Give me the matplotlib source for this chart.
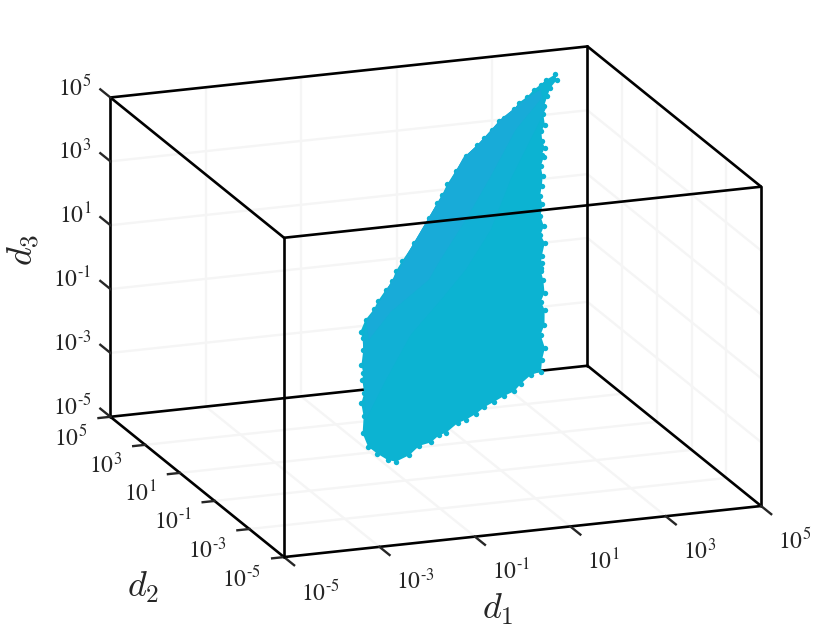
import matplotlib
matplotlib.use("Agg")
import matplotlib.pyplot as plt
from mpl_toolkits.mplot3d import proj3d
from mpl_toolkits.mplot3d.art3d import Poly3DCollection

# all values are log10 of d1, d2, d3
exponents = [-5, -3, -1, 1, 3, 5]
tick_labels = [r"$10^{\text{-}5}$", r"$10^{\text{-}3}$", r"$10^{\text{-}1}$",
               r"$10^{1}$", r"$10^{3}$", r"$10^{5}$"]

# edge of the point cloud
cloud_d1 = [3.90, 3.73, 3.62, 3.49, 3.43, 3.40, 3.29, 3.25, 3.26,
            3.16, 3.19, 3.07, 3.05, 2.97, 2.88, 2.88, 2.77, 2.78,
            2.66, 2.70, 2.56, 2.47, 2.53, 2.45, 2.45, 2.40, 2.27,
            2.30, 2.21, 2.07, 2.08, 1.95, 1.86, 1.64, 1.38, 1.20,
            0.97, 0.73, 0.50, 0.29, 0.05, -0.14, -0.43, -0.58, -0.80,
            -1.05, -1.31, -1.62, -1.78, -1.95, -2.10, -2.13, -2.01, -1.98,
            -1.86, -1.82, -1.76, -1.75, -1.62, -1.57, -1.57, -1.40, -1.16,
            -1.04, -0.81, -0.63, -0.50, -0.31, 0.04, 0.49, 0.75, 0.90,
            1.06, 1.31, 1.60, 1.91, 2.08, 2.30, 2.49, 2.61, 2.86,
            3.00, 3.21, 3.39, 3.55, 3.68, 3.91]
cloud_d2 = [3.76, 3.65, 3.52, 3.36, 3.23, 3.06, 2.96, 2.80, 2.68,
            2.58, 2.54, 2.39, 2.22, 2.06, 1.91, 1.77, 1.58, 1.41,
            1.28, 1.14, 0.93, 0.74, 0.82, 0.68, 0.54, 0.33, 0.19,
            0.05, -0.19, -0.35, -0.57, -0.76, -0.95, -0.98, -1.11, -1.22,
            -1.28, -1.36, -1.43, -1.52, -1.60, -1.64, -1.78, -1.80, -1.91,
            -1.94, -2.08, -2.16, -2.12, -2.00, -1.87, -1.64, -1.37, -1.15,
            -0.99, -0.77, -0.66, -0.53, -0.28, -0.10, 0.02, 0.20, 0.36,
            0.48, 0.65, 0.78, 0.93, 1.09, 1.36, 1.75, 1.98, 2.10,
            2.26, 2.46, 2.68, 2.85, 2.95, 3.06, 3.20, 3.24, 3.36,
            3.46, 3.55, 3.65, 3.72, 3.78, 3.86]
cloud_d3 = [4.66, 4.50, 4.31, 4.09, 3.90, 3.66, 3.51, 3.28, 3.12,
            2.97, 2.91, 2.70, 2.46, 2.23, 2.01, 1.81, 1.54, 1.30,
            1.11, 0.91, 0.61, 0.34, 0.45, 0.26, 0.06, -0.25, -0.44,
            -0.64, -0.99, -1.21, -1.53, -1.80, -2.07, -2.12, -2.30, -2.46,
            -2.54, -2.65, -2.75, -2.89, -3.00, -3.06, -3.25, -3.29, -3.44,
            -3.49, -3.68, -3.80, -3.74, -3.57, -3.38, -3.06, -2.67, -2.36,
            -2.13, -1.82, -1.66, -1.47, -1.12, -0.85, -0.69, -0.43, -0.20,
            -0.03, 0.22, 0.40, 0.62, 0.84, 1.23, 1.78, 2.11, 2.29,
            2.51, 2.80, 3.12, 3.36, 3.50, 3.66, 3.85, 3.92, 4.09,
            4.23, 4.35, 4.50, 4.60, 4.69, 4.80]

# slightly bluer strip along the upper left side of the cloud
mid_d1 = [-1.57, -1.39, -0.97, -0.43, 0.04, 0.49, 0.91, 1.55, 1.92, 2.53, 3.21,
          3.52, 3.50, 3.02, 2.38, 1.68, 0.93, 0.25, -0.57, -1.34, -1.99]
mid_d2 = [-0.12, 0.17, 0.50, 0.96, 1.37, 1.75, 2.10, 2.67, 2.85, 3.22, 3.53,
          3.64, 3.30, 2.84, 2.23, 1.45, 0.84, 0.39, -0.12, -0.81, -1.43]
mid_d3 = [-0.89, -0.48, 0.00, 0.65, 1.24, 1.79, 2.29, 3.09, 3.36, 3.89, 4.33,
          4.48, 4.01, 3.35, 2.47, 1.35, 0.48, -0.15, -0.89, -1.87, -2.75]
blue_d1 = [-1.39, -0.97, -0.43, 0.04, 0.49, 0.91, 1.55, 1.92, 2.53, 3.21, 3.52,
           3.46, 2.78, 1.99, 1.23, 0.48, 0.12, -0.84, -1.45]
blue_d2 = [0.17, 0.50, 0.96, 1.37, 1.75, 2.10, 2.67, 2.85, 3.22, 3.53, 3.64,
           3.48, 3.03, 2.31, 1.65, 1.05, 0.74, 0.29, -0.13]
blue_d3 = [-0.48, 0.00, 0.65, 1.24, 1.79, 2.29, 3.09, 3.36, 3.89, 4.33, 4.48,
           4.25, 3.62, 2.59, 1.65, 0.78, 0.34, -0.31, -0.90]

box_color = "black"
tick_color = "#262626"
grid_color = "#f5f5f5"
cloud_color = "#0cb3d2"

fig = plt.figure(figsize=(8.4, 6.3), dpi=100)
ax = fig.add_axes([0.0488, -0.1056, 0.9152, 1.2203], projection="3d", proj_type="ortho")
ax.view_init(elev=17.1, azim=-110)
ax.set_box_aspect((1, 1, 0.658))
ax.set_xlim(-5, 5)
ax.set_ylim(-5, 5)
ax.set_zlim(-5, 5)
ax.set_axis_off()
ax.computed_zorder = False

lo, hi = exponents[0], exponents[-1]

# === Grid on the three back walls ===
for e in exponents[1:-1]:
    ax.plot([e, e], [lo, hi], [lo, lo], color=grid_color, lw=1.7, zorder=1)
    ax.plot([lo, hi], [e, e], [lo, lo], color=grid_color, lw=1.7, zorder=1)
    ax.plot([e, e], [hi, hi], [lo, hi], color=grid_color, lw=1.7, zorder=1)
    ax.plot([lo, hi], [hi, hi], [e, e], color=grid_color, lw=1.7, zorder=1)
    ax.plot([hi, hi], [e, e], [lo, hi], color=grid_color, lw=1.7, zorder=1)
    ax.plot([hi, hi], [lo, hi], [e, e], color=grid_color, lw=1.7, zorder=1)

# === Box, the edges behind the cloud first ===
back_edges = [
    ([lo, hi], [hi, hi], [lo, lo]), ([hi, hi], [lo, hi], [lo, lo]),
    ([lo, lo], [lo, hi], [lo, lo]), ([lo, hi], [lo, lo], [lo, lo]),
    ([hi, hi], [hi, hi], [lo, hi]), ([lo, lo], [hi, hi], [lo, hi]),
    ([lo, hi], [hi, hi], [hi, hi]), ([lo, lo], [lo, hi], [hi, hi]),
    ([hi, hi], [lo, hi], [hi, hi]), ([hi, hi], [lo, lo], [lo, hi]),
]
front_edges = [
    ([lo, lo], [lo, lo], [lo, hi]), ([lo, hi], [lo, lo], [hi, hi]),
]
for xs, ys, zs in back_edges:
    ax.plot(xs, ys, zs, color=box_color, lw=1.9, zorder=2, solid_capstyle="round")

# === Cloud ===
for px, py, pz, col, order in [
    (cloud_d1, cloud_d2, cloud_d3, cloud_color, 3),
    (mid_d1, mid_d2, mid_d3, "#11b0d5", 4),
    (blue_d1, blue_d2, blue_d3, "#18abd8", 5),
]:
    ax.add_collection3d(Poly3DCollection([list(zip(px, py, pz))], facecolors=col,
                                         edgecolors="none", zorder=order, shade=False))
ax.scatter(cloud_d1, cloud_d2, cloud_d3, s=15, c=cloud_color, linewidths=0,
           depthshade=False, zorder=3)

for xs, ys, zs in front_edges:
    ax.plot(xs, ys, zs, color=box_color, lw=1.9, zorder=6, solid_capstyle="round")


def put_label(label, x, y, z, dx, dy, ha):
    # offset from the tick is in pixels of the 100 dpi figure
    u, v, _ = proj3d.proj_transform(x, y, z, ax.get_proj())
    ax.annotate(label, xy=(u, v), xytext=(dx * 0.72, dy * 0.72), textcoords="offset points",
                ha=ha, va="center", fontsize=17, math_fontfamily="stix", color=tick_color)


# === Ticks and their labels ===
for e, label in zip(exponents, tick_labels):
    ax.plot([e, e], [lo, lo - 0.58], [lo, lo], color=tick_color, lw=1.7, zorder=2)
    ax.plot([lo, lo - 0.25], [e, e], [lo, lo], color=tick_color, lw=1.7, zorder=2)
    ax.plot([lo, lo], [hi, hi + 0.58], [e, e], color=tick_color, lw=1.7, zorder=2)
    put_label(label, e, lo, lo, 17, -35, "left")
    put_label(label, lo, e, lo, -23, -21, "right")
    put_label(label, lo, hi, e, -19, 10, "right")

fig.text(498 / 840, 1 - 609 / 630, r"$d_1$", ha="center", va="center",
         fontsize=26, math_fontfamily="cm", color=tick_color)
fig.text(143 / 840, 1 - 587 / 630, r"$d_2$", ha="center", va="center",
         fontsize=26, math_fontfamily="cm", color=tick_color)
fig.text(24 / 840, 1 - 250 / 630, r"$d_3$", ha="center", va="center", rotation=90,
         fontsize=26, math_fontfamily="cm", color=tick_color)

fig.savefig("out.png", dpi=100)
